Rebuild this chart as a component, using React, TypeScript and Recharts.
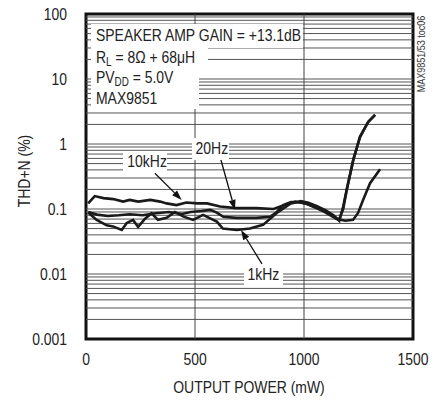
import React from "react";
import {
  LineChart,
  Line,
  XAxis,
  YAxis,
  ReferenceLine,
  ReferenceArea,
} from "recharts";

const FONT = "'Liberation Sans', Arial, sans-serif";
const SQUEEZE = 0.82;

// output power (mW) / THD+N (%)
const power10k = [10, 40, 80, 125, 170, 200, 240, 295, 340, 370, 415, 460, 510, 555, 615, 690, 780, 860, 920, 960, 1010, 1090, 1150, 1190, 1225, 1248, 1271, 1303, 1349];
const thd10k = [0.122, 0.158, 0.147, 0.142, 0.13, 0.138, 0.13, 0.138, 0.13, 0.122, 0.115, 0.126, 0.122, 0.122, 0.109, 0.103, 0.103, 0.1, 0.118, 0.13, 0.122, 0.092, 0.07, 0.066, 0.068, 0.087, 0.138, 0.25, 0.41];

const power20 = [10, 50, 100, 150, 200, 260, 320, 380, 440, 480, 530, 570, 600, 630, 690, 780, 845, 875, 905, 940, 980, 1010, 1050, 1090, 1130, 1160, 1180, 1196, 1226, 1257, 1295, 1326];
const thd20 = [0.09, 0.082, 0.078, 0.08, 0.083, 0.08, 0.086, 0.09, 0.084, 0.09, 0.093, 0.097, 0.088, 0.076, 0.073, 0.073, 0.076, 0.09, 0.115, 0.128, 0.127, 0.12, 0.106, 0.094, 0.08, 0.068, 0.1, 0.196, 0.57, 1.29, 2.2, 2.8];

const power1k = [10, 49, 95, 124, 164, 187, 216, 239, 271, 301, 330, 370, 408, 445, 491, 537, 600, 628, 691, 752, 812, 875, 936, 985, 1020, 1060, 1100, 1135, 1162, 1180, 1196, 1226, 1257, 1295, 1326];
const thd1k = [0.088, 0.068, 0.056, 0.054, 0.0475, 0.061, 0.068, 0.053, 0.071, 0.086, 0.068, 0.073, 0.09, 0.077, 0.068, 0.081, 0.064, 0.05, 0.0475, 0.05, 0.057, 0.087, 0.12, 0.132, 0.125, 0.11, 0.095, 0.08, 0.066, 0.11, 0.2, 0.57, 1.29, 2.2, 2.8];

const xTicks = [0, 500, 1000, 1500];
const yTicks = [0.001, 0.01, 0.1, 1, 10, 100];
const gridSteps = [1, 2, 3, 4, 5, 6, 7, 8, 9];

// label arrows: [from, to] in (mW, %)
const arrow10k = [{ x: 316, y: 0.354 }, { x: 439, y: 0.138 }];
const arrow20 = [{ x: 619, y: 0.568 }, { x: 683, y: 0.097 }];
const arrow1k = [{ x: 807, y: 0.0143 }, { x: 711, y: 0.0475 }];

const toRows = (p: number[], v: number[]) => p.map((x, i) => ({ p: x, thd: v[i] }));
const data10k = toRows(power10k, thd10k);
const data20 = toRows(power20, thd20);
const data1k = toRows(power1k, thd1k);

const gridValues = yTicks
  .slice(0, -1)
  .flatMap((d) => gridSteps.map((k) => k * d))
  .slice(1);

const Arrow = (props: any) => {
  const { x1, y1, x2, y2 } = props;
  if (x1 == null) return null;
  const a = Math.atan2(y2 - y1, x2 - x1);
  const len = 10;
  const w = 3.5;
  const bx = x2 - len * Math.cos(a);
  const by = y2 - len * Math.sin(a);
  const nx = -Math.sin(a) * w;
  const ny = Math.cos(a) * w;
  return (
    <g>
      <line x1={x1} y1={y1} x2={bx} y2={by} stroke="#111" strokeWidth={1.3} />
      <polygon
        points={`${x2},${y2} ${bx + nx},${by + ny} ${bx - nx},${by - ny}`}
        fill="#111"
      />
    </g>
  );
};

// narrow tick text (the datasheet uses a condensed face)
const NarrowTick = (props: any) => {
  const { x, y, payload, textAnchor, dy } = props;
  return (
    <text
      transform={`translate(${x},${y}) scale(${SQUEEZE},1)`}
      textAnchor={textAnchor}
      dy={dy}
      fontFamily={FONT}
      fontSize={17}
      fill="#222"
    >
      {payload.value}
    </text>
  );
};

const box = (left: number, top: number, width: number, height: number, align: "left" | "center" = "left"): React.CSSProperties => ({
  position: "absolute",
  left,
  top,
  width,
  height,
  lineHeight: `${height}px`,
  background: "#fff",
  textAlign: align,
  paddingLeft: align === "left" ? 5 : 0,
  boxSizing: "border-box",
  whiteSpace: "nowrap",
});

const Narrow = ({ children, size = 17, origin = "left" }: { children: React.ReactNode; size?: number; origin?: string }) => (
  <span
    style={{
      display: "inline-block",
      fontFamily: FONT,
      fontSize: size,
      color: "#222",
      transform: `scaleX(${SQUEEZE})`,
      transformOrigin: origin,
      whiteSpace: "nowrap",
    }}
  >
    {children}
  </span>
);

const sub: React.CSSProperties = { fontSize: 12, position: "relative", top: 3, lineHeight: 0 };

export default function App() {
  return (
    <div style={{ position: "absolute", left: 0, top: 0, width: 442, height: 400, background: "#fff" }}>
      <LineChart width={442} height={400} margin={{ top: 14, right: 29, bottom: 21, left: 0 }}>
        {gridValues.map((v) => (
          <ReferenceLine key={v} y={v} stroke="#555" strokeWidth={1} />
        ))}
        <ReferenceLine x={500} stroke="#444" strokeWidth={1} />
        <ReferenceLine x={1000} stroke="#444" strokeWidth={1} />
        <XAxis
          type="number"
          dataKey="p"
          domain={[0, 1500]}
          ticks={xTicks}
          height={40}
          tickLine={false}
          axisLine={false}
          tickSize={0}
          tickMargin={14}
          tick={<NarrowTick dy="0.71em" />}
          allowDataOverflow
        />
        <YAxis
          scale="log"
          domain={[0.001, 100]}
          ticks={yTicks}
          width={86}
          tickLine={false}
          axisLine={false}
          tickSize={0}
          tickMargin={19}
          tick={<NarrowTick dy="0.355em" />}
          allowDataOverflow
        />
        <ReferenceArea x1={0} x2={1500} y1={0.001} y2={100} fill="none" stroke="#111" strokeWidth={3} />
        <Line data={data10k} dataKey="thd" type="linear" stroke="#1a1a1a" strokeWidth={2.6} dot={false} isAnimationActive={false} />
        <Line data={data20} dataKey="thd" type="linear" stroke="#1a1a1a" strokeWidth={2.6} dot={false} isAnimationActive={false} />
        <Line data={data1k} dataKey="thd" type="linear" stroke="#1a1a1a" strokeWidth={2.6} dot={false} isAnimationActive={false} />
        <ReferenceLine segment={arrow10k} shape={Arrow} />
        <ReferenceLine segment={arrow20} shape={Arrow} />
        <ReferenceLine segment={arrow1k} shape={Arrow} />
      </LineChart>

      <div style={box(91, 24, 212, 24)}>
        <Narrow>SPEAKER AMP GAIN = +13.1dB</Narrow>
      </div>
      <div style={box(91, 48, 117, 19)}>
        <Narrow>
          R<span style={sub}>L</span> = 8Ω + 68μH
        </Narrow>
      </div>
      <div style={box(91, 67, 108, 21)}>
        <Narrow>
          PV<span style={sub}>DD</span> = 5.0V
        </Narrow>
      </div>
      <div style={box(91, 88, 108, 21)}>
        <Narrow>MAX9851</Narrow>
      </div>

      <div style={box(123, 151, 44, 21, "center")}>
        <Narrow origin="center">10kHz</Narrow>
      </div>
      <div style={box(192, 138, 37, 22, "center")}>
        <Narrow origin="center">20Hz</Narrow>
      </div>
      <div style={box(244, 265, 39, 20, "center")}>
        <Narrow origin="center">1kHz</Narrow>
      </div>

      <div
        style={{
          position: "absolute",
          left: 25,
          top: 171,
          transform: `translate(-50%, -50%) rotate(-90deg) scaleX(${SQUEEZE})`,
          fontFamily: FONT,
          fontSize: 17,
          color: "#222",
          whiteSpace: "nowrap",
        }}
      >
        THD+N (%)
      </div>
      <div
        style={{
          position: "absolute",
          left: 249,
          top: 388,
          transform: `translate(-50%, -50%) scaleX(${SQUEEZE})`,
          fontFamily: FONT,
          fontSize: 17,
          color: "#222",
          whiteSpace: "nowrap",
        }}
      >
        OUTPUT POWER (mW)
      </div>
      <div
        style={{
          position: "absolute",
          left: 421,
          top: 54,
          transform: `translate(-50%, -50%) rotate(-90deg) scaleX(${SQUEEZE})`,
          fontFamily: FONT,
          fontSize: 11,
          color: "#333",
          whiteSpace: "nowrap",
        }}
      >
        MAX9851/53 toc06
      </div>
    </div>
  );
}
